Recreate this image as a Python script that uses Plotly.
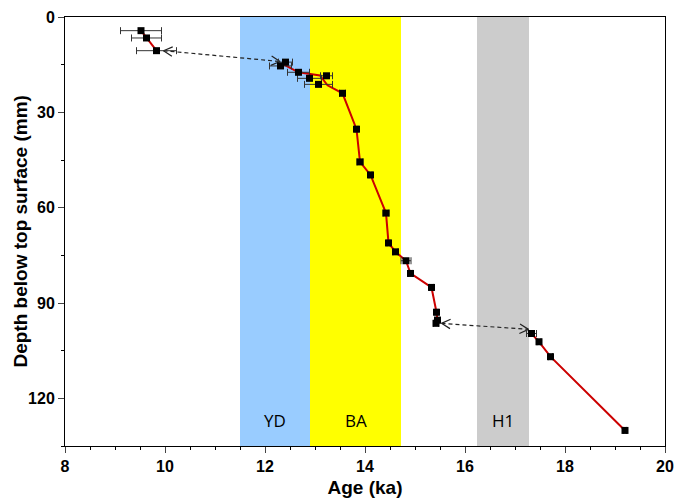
import plotly.graph_objects as go
import math

# ---- data ----
age = [9.52, 9.63, 9.83, 12.41, 12.31, 12.67, 12.89, 13.23, 13.07, 13.55, 13.83, 13.90,
       14.11, 14.42, 14.47, 14.61, 14.82, 14.91, 15.33, 15.43, 15.45, 15.42, 17.33,
       17.48, 17.71, 19.20]
depth = [4.3, 6.6, 10.6, 14.2, 15.4, 17.4, 19.3, 18.5, 21.2, 24.0, 35.3, 45.6,
         49.7, 61.7, 71.1, 73.9, 76.7, 80.7, 85.1, 92.9, 95.4, 96.4, 99.6,
         102.2, 106.9, 130.1]
age_err = [0.41, 0.30, 0.40, 0.14, 0.22, 0.22, 0.24, 0.12, 0.28, 0.06, 0.03, 0.06,
           0.03, 0.06, 0.03, 0.05, 0.10, 0.04, 0.04, 0.03, 0.05, 0.05, 0.10,
           0.04, 0.04, 0.03]

# age model (red line) segments
model1_age = [9.52, 9.63, 9.83]
model1_depth = [4.3, 6.6, 10.6]
model2_age = [12.36, 12.67, 13.10, 13.25, 13.55, 13.83, 13.90, 14.11, 14.42, 14.47,
              14.61, 14.82, 14.91, 15.33, 15.43, 15.45, 15.42]
model2_depth = [14.8, 17.4, 18.4, 21.5, 24.0, 35.3, 45.6, 49.7, 61.7, 71.1,
                73.9, 76.7, 80.7, 85.1, 92.9, 95.4, 96.4]
model3_age = [17.33, 17.48, 17.71, 19.20]
model3_depth = [99.6, 102.2, 106.9, 130.1]

# hiatus arrows (start age, start depth, end age, end depth)
arrows = [(9.97, 10.6, 12.30, 14.0), (15.53, 96.4, 17.27, 98.3)]

# climate intervals
bands = [("YD", 11.5, 12.9, "#99CCFF"), ("BA", 12.9, 14.72, "#FFFF00"), ("H1", 16.24, 17.28, "#CCCCCC")]
band_label_depth = 127

xrange_ = [8, 20]
yrange_ = [135, 0]

W, H = 678, 498
ml, mr, mt, mb = 65, 13, 17, 52
pxx = (W - ml - mr) / (xrange_[1] - xrange_[0])
pxy = (H - mt - mb) / (yrange_[0] - yrange_[1])

fig = go.Figure()

for name, x0, x1, col in bands:
    fig.add_shape(type="rect", xref="x", yref="paper", x0=x0, x1=x1, y0=0, y1=1,
                  fillcolor=col, line_width=0, layer="below")
    fig.add_annotation(x=(x0 + x1) / 2, y=band_label_depth, text=name, showarrow=False,
                       font=dict(family="Open Sans", size=17, color="black"))

for ma, md in [(model1_age, model1_depth), (model2_age, model2_depth), (model3_age, model3_depth)]:
    fig.add_trace(go.Scatter(x=ma, y=md, mode="lines", line=dict(color="#CC0000", width=2),
                             showlegend=False, hoverinfo="skip"))

# arrows: dashed line + open chevron heads at both ends
for (a0, d0, a1, d1) in arrows:
    fig.add_trace(go.Scatter(x=[a0, a1], y=[d0, d1], mode="lines",
                             line=dict(color="#222222", width=1.2, dash="4px,3px"),
                             showlegend=False, hoverinfo="skip"))
    for (tx, ty, fx, fy) in [(a0, d0, a1, d1), (a1, d1, a0, d0)]:
        dx = (fx - tx) * pxx
        dy = (fy - ty) * pxy
        L = math.hypot(dx, dy)
        ux, uy = dx / L, dy / L
        hl, ang = 10, math.radians(28)
        pts = []
        for s in (1, -1):
            rx = ux * math.cos(s * ang) - uy * math.sin(s * ang)
            ry = ux * math.sin(s * ang) + uy * math.cos(s * ang)
            pts.append((tx + rx * hl / pxx, ty + ry * hl / pxy))
        fig.add_trace(go.Scatter(x=[pts[0][0], tx, pts[1][0]], y=[pts[0][1], ty, pts[1][1]],
                                 mode="lines", line=dict(color="#222222", width=1.2),
                                 showlegend=False, hoverinfo="skip"))

fig.add_trace(go.Scatter(x=age, y=depth, mode="markers",
                         marker=dict(symbol="square", size=7, color="black"),
                         error_x=dict(type="data", array=age_err, color="#333333", thickness=1, width=3.5),
                         showlegend=False))

tickfont = dict(family="Liberation Sans", size=16, color="black")
titlefont = dict(family="Liberation Sans", size=19, color="black")

fig.update_layout(
    width=W, height=H, margin=dict(l=ml, r=mr, t=mt, b=mb, autoexpand=False),
    plot_bgcolor="white", paper_bgcolor="white",
    font=dict(family="Liberation Sans"),
)
# y-axis title placed as annotation (x offset in pixels from plot's left edge)
fig.add_annotation(xref="paper", yref="paper", x=-(ml - 20) / (W - ml - mr), y=0.5,
                   text="<b>Depth below top surface (mm)</b>", textangle=-90, showarrow=False,
                   font=titlefont, xanchor="center", yanchor="middle")
fig.update_xaxes(range=xrange_, dtick=2, tick0=8, ticks="outside", ticklen=6, tickwidth=1,
                 showline=True, linecolor="black", linewidth=1, mirror=True, showgrid=False,
                 zeroline=False, tickfont=tickfont, automargin=False,
                 tickprefix="<b>", ticksuffix="</b>",
                 minor=dict(dtick=0.5, ticks="outside", ticklen=3, tickcolor="black", showgrid=False),
                 title=dict(text="<b>Age (ka)</b>", font=titlefont, standoff=6))
fig.update_yaxes(range=yrange_, dtick=30, tick0=0, ticks="outside", ticklen=6, tickwidth=1,
                 showline=True, linecolor="black", linewidth=1, mirror=True, showgrid=False,
                 zeroline=False, tickfont=tickfont, automargin=False,
                 tickprefix="<b>", ticksuffix="</b>",
                 minor=dict(dtick=15, ticks="outside", ticklen=3, tickcolor="black", showgrid=False))

fig.write_html("out.html", config={"displayModeBar": False},
               post_script="document.body.style.margin='0';document.body.style.overflow='hidden';")
